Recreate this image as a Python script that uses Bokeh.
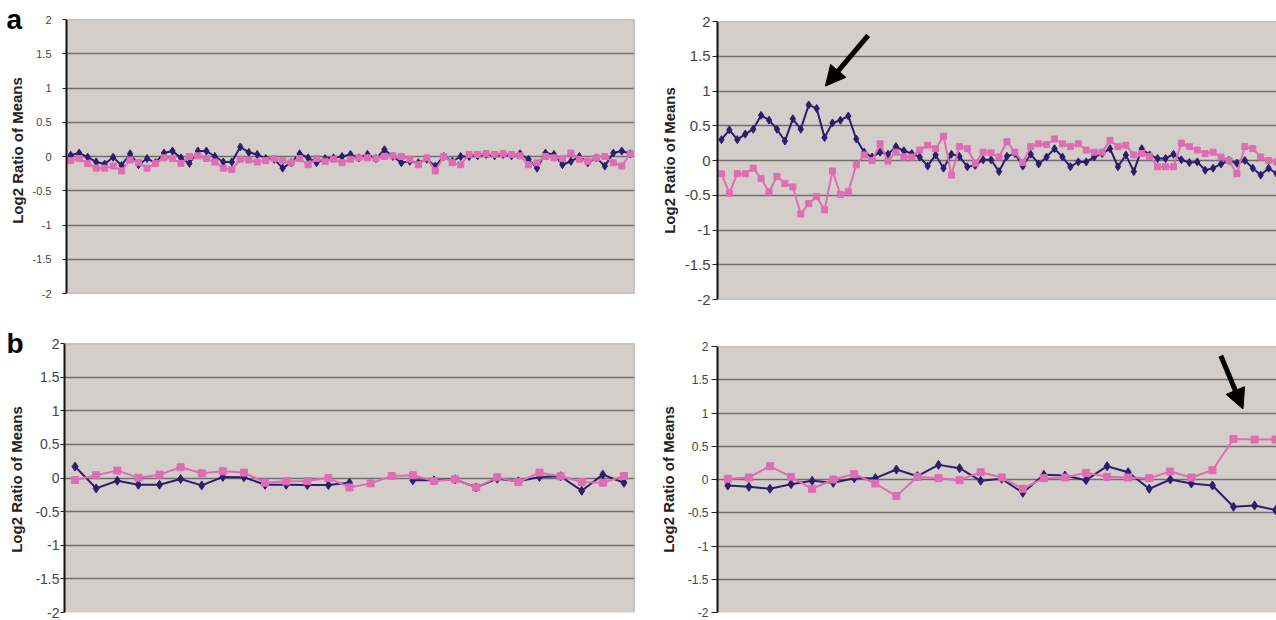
import numpy as np
from bokeh.plotting import figure
from bokeh.layouts import row, column
from bokeh.models import FixedTicker, Arrow, NormalHead, Range1d, Span
from bokeh.core.properties import value
from bokeh.embed import file_html
from bokeh.resources import INLINE

NAN = float("nan")

# ---------------- data ----------------
Y_TICKS = [-2, -1.5, -1, -0.5, 0, 0.5, 1, 1.5, 2]
Y_TICK_LABELS = ["-2", "-1.5", "-1", "-0.5", "0", "0.5", "1", "1.5", "2"]
GRID_TICKS = [-1.5, -1, -0.5, 0, 0.5, 1, 1.5]
Y_TITLE = "Log2 Ratio of Means"
PANEL_LETTERS = ["a", "b"]

# panel a, left
A_LEFT_BLUE = [0.02, 0.05, -0.01, -0.08, -0.11, -0.01, -0.13, 0.04, -0.12, -0.03,
               -0.09, 0.05, 0.08, -0.02, -0.10, 0.08, 0.08, 0.00, -0.08, -0.08,
               0.14, 0.06, 0.03, -0.03, -0.04, -0.17, -0.09, 0.04, -0.02, -0.09,
               -0.03, -0.02, 0.00, 0.03, -0.02, 0.03, -0.03, 0.10, 0.00, -0.09,
               -0.07, -0.09, -0.04, -0.14, 0.00, -0.07, 0.00, 0.00, 0.01, 0.03,
               0.01, 0.03, 0.01, 0.04, -0.04, -0.17, 0.05, 0.03, -0.12, -0.07,
               0.00, -0.09, -0.02, -0.14, 0.05, 0.08, 0.04]
A_LEFT_PINK = [-0.06, -0.03, -0.10, -0.17, -0.17, -0.14, -0.21, -0.05, -0.09, -0.17,
               -0.10, -0.02, -0.03, -0.10, 0.00, 0.01, -0.03, -0.08, -0.17, -0.19,
               -0.04, -0.05, -0.08, -0.06, -0.03, -0.06, -0.09, -0.03, -0.12, -0.03,
               -0.07, -0.04, -0.09, -0.04, -0.02, -0.02, -0.03, 0.00, 0.01, 0.00,
               -0.04, -0.12, -0.02, -0.21, 0.00, -0.09, -0.12, 0.03, 0.03, 0.04,
               0.03, 0.04, 0.03, 0.01, -0.12, -0.09, 0.00, -0.02, -0.03, 0.05,
               -0.04, -0.07, -0.02, 0.00, -0.09, -0.14, 0.04]

# panel a, right
A_RIGHT_BLUE = [0.30, 0.44, 0.30, 0.38, 0.45, 0.65, 0.58, 0.45, 0.28, 0.60,
                0.45, 0.80, 0.75, 0.33, 0.54, 0.58, 0.64, 0.31, 0.12, 0.05,
                0.12, 0.09, 0.20, 0.14, 0.10, 0.05, -0.08, 0.08, -0.11, 0.09,
                0.06, -0.09, -0.07, 0.01, 0.01, -0.16, 0.06, 0.10, -0.08, 0.09,
                -0.05, 0.05, 0.17, 0.05, -0.09, -0.02, -0.02, 0.05, 0.10, 0.17,
                -0.09, 0.08, -0.16, 0.17, 0.08, 0.03, 0.03, 0.09, 0.01, -0.03,
                -0.02, -0.14, -0.11, -0.05, 0.00, -0.04, 0.00, -0.11, -0.21, -0.11,
                -0.19]
A_RIGHT_PINK = [-0.19, -0.47, -0.19, -0.19, -0.11, -0.26, -0.45, -0.23, -0.33, -0.38,
                -0.77, -0.62, -0.52, -0.71, -0.15, -0.49, -0.45, -0.06, 0.08, 0.00,
                0.24, -0.01, 0.12, 0.05, 0.05, 0.15, 0.22, 0.17, 0.35, -0.21,
                0.20, 0.17, -0.04, 0.12, 0.11, 0.05, 0.27, 0.12, -0.03, 0.20,
                0.24, 0.23, 0.31, 0.24, 0.20, 0.24, 0.15, 0.12, 0.12, 0.29,
                0.20, 0.22, 0.08, 0.10, 0.06, -0.09, -0.09, -0.09, 0.25, 0.20,
                0.15, 0.10, 0.12, 0.05, 0.00, -0.19, 0.20, 0.17, 0.05, 0.00,
                -0.02]

# panel b, left
B_LEFT_BLUE = [0.17, -0.155, -0.04, -0.10, -0.10, -0.015, -0.11, 0.015, 0.01, -0.10,
               -0.10, -0.105, -0.105, -0.07, NAN, NAN, -0.035, -0.035, -0.02, -0.14,
               -0.01, -0.05, 0.015, 0.025, -0.19, 0.05, -0.07]
B_LEFT_PINK = [-0.03, 0.04, 0.11, 0.005, 0.05, 0.16, 0.07, 0.10, 0.08, -0.07,
               -0.05, -0.045, 0.00, -0.14, -0.08, 0.03, 0.04, -0.045, -0.02, -0.14,
               0.01, -0.06, 0.08, 0.025, -0.06, -0.07, 0.03]

# panel b, right
B_RIGHT_BLUE = [-0.09, -0.11, -0.14, -0.07, -0.02, -0.05, 0.02, 0.02, 0.15, 0.05,
                0.22, 0.17, -0.02, 0.01, -0.20, 0.07, 0.06, -0.01, 0.20, 0.11,
                -0.14, 0.00, -0.06, -0.09, -0.41, -0.39, -0.46]
B_RIGHT_PINK = [0.01, 0.03, 0.20, 0.04, -0.14, 0.00, 0.08, -0.06, -0.25, 0.04,
                0.02, -0.01, 0.11, 0.03, -0.14, 0.02, 0.03, 0.10, 0.04, 0.03,
                0.02, 0.12, 0.03, 0.14, 0.61, 0.60, 0.60]

# arrow annotations (data units: x_start, y_start, x_end, y_end)
ARROW_A = (18.5, 1.80, 13.1, 1.07)
ARROW_B = (23.4, 1.86, 24.45, 1.06)

# ---------------- style ----------------
BG = "#D4CECA"
GRID = "#6F6F6F"
EDGE = "#A2A2A2"
BLUE = "#2C1D6E"
PINK = "#DE6DB3"
FONT = "Liberation Sans"
TITLE_SIZE = 15


def make_panel(blue, pink, width, height, bl, br, bt, bb, xr, yr,
               tick_size, tick_out, tick_standoff, msize, edges,
               title_standoff=None):
    p = figure(width=width, height=height, output_backend="svg",
               toolbar_location=None, x_axis_location=None, title=None,
               x_range=Range1d(*xr), y_range=Range1d(*yr),
               min_border_left=bl, min_border_right=br,
               min_border_top=bt, min_border_bottom=bb)
    p.frame_align = False
    p.background_fill_color = BG
    p.border_fill_color = "white"
    p.outline_line_color = None
    p.xgrid.visible = False
    p.ygrid.ticker = FixedTicker(ticks=GRID_TICKS)
    p.ygrid.grid_line_color = GRID
    p.ygrid.grid_line_width = 1.6

    ax = p.yaxis[0]
    ax.ticker = FixedTicker(ticks=Y_TICKS)
    ax.major_label_overrides = {t: s for t, s in zip(Y_TICKS, Y_TICK_LABELS)}
    ax.axis_line_color = "#111111"
    ax.axis_line_width = 2
    ax.major_tick_out = tick_out
    ax.major_tick_in = 0
    ax.major_tick_line_color = "#222222"
    ax.minor_tick_line_color = None
    ax.major_label_text_font = FONT
    ax.major_label_text_font_size = f"{tick_size}px"
    ax.major_label_text_color = "#444444"
    ax.major_label_standoff = tick_standoff
    if title_standoff is not None:
        ax.axis_label = Y_TITLE
        ax.axis_label_text_font = FONT
        ax.axis_label_text_font_size = f"{TITLE_SIZE}px"
        ax.axis_label_text_font_style = "bold"
        ax.axis_label_text_color = "#222222"
        ax.axis_label_standoff = title_standoff

    for kind in edges:
        if kind == "top":
            p.add_layout(Span(location=yr[1], dimension="width", line_color=EDGE, line_width=1.5))
        elif kind == "bottom":
            p.add_layout(Span(location=yr[0], dimension="width", line_color=EDGE, line_width=1.5))
        elif kind == "right":
            p.add_layout(Span(location=xr[1], dimension="height", line_color=EDGE, line_width=1.5))

    xb = np.arange(len(blue))
    yb = np.array(blue, dtype=float)
    xp = np.arange(len(pink))
    yp = np.array(pink, dtype=float)
    p.line(xb, yb, line_color=BLUE, line_width=2)
    p.scatter(xb, yb, marker="diamond", size=msize + 2, fill_color=BLUE, line_color=BLUE)
    p.line(xp, yp, line_color=PINK, line_width=2)
    p.scatter(xp, yp, marker="square", size=msize, fill_color=PINK, line_color=PINK)
    return p


def make_side(width, height, letter, letter_x, letter_pos, title_x, title_cy):
    """Narrow strip holding the panel letter and the rotated y title (pixel units)."""
    s = figure(width=width, height=height, output_backend="svg",
               toolbar_location=None, x_axis_location=None, y_axis_location=None,
               title=None,
               x_range=Range1d(0, width), y_range=Range1d(0, height),
               min_border_left=0, min_border_right=0,
               min_border_top=0, min_border_bottom=0)
    s.frame_align = False
    s.grid.visible = False
    s.outline_line_color = None
    s.background_fill_color = "white"
    s.border_fill_color = "white"
    s.text(x=[letter_x], y=[height - letter_pos], text=[letter],
           text_font=value(FONT), text_font_size=value("28px"),
           text_font_style="bold", text_color="black",
           text_align="left", text_baseline="middle")
    s.text(x=[title_x], y=[height - title_cy], text=[Y_TITLE], angle=[np.pi / 2],
           text_font=value(FONT), text_font_size=value(f"{TITLE_SIZE}px"),
           text_font_style="bold", text_color="#222222",
           text_align="center", text_baseline="middle")
    return s


# page origin (0,0); rows: y 0..318 and 318..620
SIDE_W = 27
# top-left frame: x 66..634, y 19..293
s1 = make_side(SIDE_W, 318, PANEL_LETTERS[0], 6, 19, 16.5, 150)
n_al = len(A_LEFT_BLUE)
p1 = make_panel(A_LEFT_BLUE, A_LEFT_PINK, 640 - SIDE_W, 318, 66 - SIDE_W, 6, 19, 25,
                (-0.5, n_al - 0.5), (-2, 2), 11, 4, 11, 6,
                ["top", "bottom", "right"])
# top-right frame: x 717..1276, y 21..299
ppu_ar = 7.93
p2 = make_panel(A_RIGHT_BLUE, A_RIGHT_PINK, 636, 318, 77, 0, 21, 19,
                (-0.5, -0.5 + 559 / ppu_ar), (-2, 2), 15, 5, 2, 6,
                ["top", "bottom"], title_standoff=4)
# bottom-left frame: x 64..634, y 343..612
s3 = make_side(SIDE_W, 302, PANEL_LETTERS[1], 6, 25, 16, 161)
n_bl = len(B_LEFT_BLUE)
p3 = make_panel(B_LEFT_BLUE, B_LEFT_PINK, 640 - SIDE_W, 302, 64 - SIDE_W, 6, 25, 8,
                (-0.5, n_bl - 0.5), (-2, 2), 14, 4, 1, 7,
                ["top", "right"])
# bottom-right frame: x 717..1276, y 346..612
ppu_br = 21.07
p4 = make_panel(B_RIGHT_BLUE, B_RIGHT_PINK, 636, 302, 77, 0, 28, 8,
                (-0.49, -0.49 + 559 / ppu_br), (-2, 2), 12, 6, 3, 7,
                ["top"], title_standoff=8)

# arrows
for p, (xs, ys, xe, ye) in ((p2, ARROW_A), (p4, ARROW_B)):
    p.add_layout(Arrow(end=NormalHead(size=20, fill_color="black", line_color="black"),
                       x_start=xs, y_start=ys, x_end=xe, y_end=ye,
                       line_color="black", line_width=5))

layout = column(row(s1, p1, p2), row(s3, p3, p4))
open("out.html", "w").write(file_html(layout, INLINE))
